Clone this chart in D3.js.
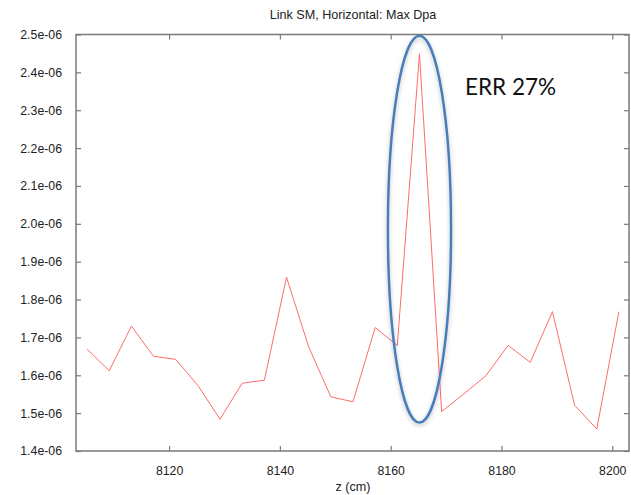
<!DOCTYPE html>
<html>
<head>
<meta charset="utf-8">
<script src="https://cdn.jsdelivr.net/npm/d3@7"></script>
<style>
  body { margin: 0; background: #fff; }
  text { font-family: "Liberation Sans", Arial, sans-serif; }
</style>
</head>
<body>
<div id="figure"></div>
<script>
const width = 631,
      height = 495,
      margin = {top: 34.5, right: 1, bottom: 44, left: 76};

// Data: z position (cm) and max dpa.
const zValues = [8105.2, 8109.2, 8113.2, 8117.2, 8121.2, 8125.2, 8129.2, 8133.2, 8137.2,
                 8141.2, 8145.2, 8149.2, 8153.2, 8157.2, 8161.2, 8165.2, 8169.2, 8173.2,
                 8177.2, 8181.2, 8185.2, 8189.2, 8193.2, 8197.2, 8201.2];
const dpaValues = [1.669e-6, 1.612e-6, 1.730e-6, 1.650e-6, 1.642e-6, 1.573e-6, 1.484e-6, 1.579e-6, 1.587e-6,
                   1.859e-6, 1.675e-6, 1.543e-6, 1.530e-6, 1.726e-6, 1.679e-6, 2.449e-6, 1.504e-6, 1.551e-6,
                   1.599e-6, 1.679e-6, 1.634e-6, 1.768e-6, 1.521e-6, 1.458e-6, 1.768e-6];

const xTicks = [8120, 8140, 8160, 8180, 8200];
const yTicks = [1.4e-6, 1.5e-6, 1.6e-6, 1.7e-6, 1.8e-6, 1.9e-6, 2.0e-6, 2.1e-6, 2.2e-6, 2.3e-6, 2.4e-6, 2.5e-6];
const yTickLabels = ["1.4e-06", "1.5e-06", "1.6e-06", "1.7e-06", "1.8e-06", "1.9e-06",
                     "2.0e-06", "2.1e-06", "2.2e-06", "2.3e-06", "2.4e-06", "2.5e-06"];

// Annotation: ellipse around the spike, in data units.
const highlight = {z: 8165.2, zHalf: 5.7, lo: 1.475e-6, hi: 2.497e-6, label: "ERR 27%"};

const data = zValues.map((z, i) => ({z: z, v: dpaValues[i]}));

const svg = d3.select("#figure").append("svg")
    .attr("width", width)
    .attr("height", height);

const xscale = d3.scaleLinear()
    .domain([8103.2, 8203.2])
    .range([margin.left, width - margin.right]);

const yscale = d3.scaleLinear()
    .domain([1.4e-6, 2.5e-6])
    .range([height - margin.bottom, margin.top]);

const frameColor = "#7a7a7a";

// Axes: gnuplot style, ticks pointing inwards on all four sides.
function styleAxis(g) {
    g.select(".domain").remove();
    g.selectAll(".tick line").attr("stroke", frameColor).attr("stroke-width", 1.2);
    g.selectAll("text").attr("fill", "#222").style("font-size", "12.3px");
}

svg.append("g")
    .attr("transform", `translate(0,${height - margin.bottom})`)
    .call(d3.axisBottom(xscale).tickValues(xTicks).tickSize(-5).tickPadding(15).tickFormat(d3.format("d")))
    .call(styleAxis);

svg.append("g")
    .attr("transform", `translate(0,${margin.top})`)
    .call(d3.axisTop(xscale).tickValues(xTicks).tickSize(-5).tickFormat(""))
    .call(styleAxis);

svg.append("g")
    .attr("transform", `translate(${margin.left},0)`)
    .call(d3.axisLeft(yscale).tickValues(yTicks).tickSize(-5).tickPadding(14)
        .tickFormat((d, i) => yTickLabels[i]))
    .call(styleAxis);

svg.append("g")
    .attr("transform", `translate(${width - margin.right - 1},0)`)
    .call(d3.axisRight(yscale).tickValues(yTicks).tickSize(-5).tickFormat(""))
    .call(styleAxis);

// Frame.
svg.append("rect")
    .attr("x", margin.left)
    .attr("y", margin.top)
    .attr("width", width - margin.right - 1 - margin.left)
    .attr("height", height - margin.bottom - margin.top)
    .attr("fill", "none")
    .attr("stroke", frameColor)
    .attr("stroke-width", 1.5);

// Data line.
const line = d3.line()
    .x(d => xscale(d.z))
    .y(d => yscale(d.v));

svg.append("path")
    .datum(data)
    .attr("fill", "none")
    .attr("stroke", "#ff6b6b")
    .attr("stroke-width", 1)
    .attr("d", line);

// Title and axis label.
svg.append("text")
    .attr("x", (margin.left + width - margin.right) / 2)
    .attr("y", 19)
    .attr("text-anchor", "middle")
    .style("font-size", "12.6px")
    .attr("fill", "#222")
    .text("Link SM, Horizontal: Max Dpa");

svg.append("text")
    .attr("x", (margin.left + width - margin.right) / 2)
    .attr("y", 491)
    .attr("text-anchor", "middle")
    .style("font-size", "12.6px")
    .attr("fill", "#222")
    .text("z (cm)");

// Ellipse annotation with a soft shadow.
const defs = svg.append("defs");
const shadow = defs.append("filter").attr("id", "shadow")
    .attr("x", "-50%").attr("y", "-10%").attr("width", "200%").attr("height", "120%");
shadow.append("feDropShadow")
    .attr("dx", 0).attr("dy", 2).attr("stdDeviation", 2)
    .attr("flood-color", "#000").attr("flood-opacity", 0.25);

const cx = xscale(highlight.z),
      cy = (yscale(highlight.lo) + yscale(highlight.hi)) / 2;
svg.append("ellipse")
    .attr("cx", cx)
    .attr("cy", cy)
    .attr("rx", xscale(highlight.z + highlight.zHalf) - cx)
    .attr("ry", (yscale(highlight.lo) - yscale(highlight.hi)) / 2)
    .attr("fill", "none")
    .attr("stroke", "#4a7ebb")
    .attr("stroke-width", 2.5)
    .attr("filter", "url(#shadow)");

svg.append("text")
    .attr("x", 465)
    .attr("y", 95)
    .style("font-family", "Lato, 'Open Sans', sans-serif")
    .style("font-size", "22.5px")
    .attr("fill", "#111")
    .text(highlight.label);
</script>
</body>
</html>
